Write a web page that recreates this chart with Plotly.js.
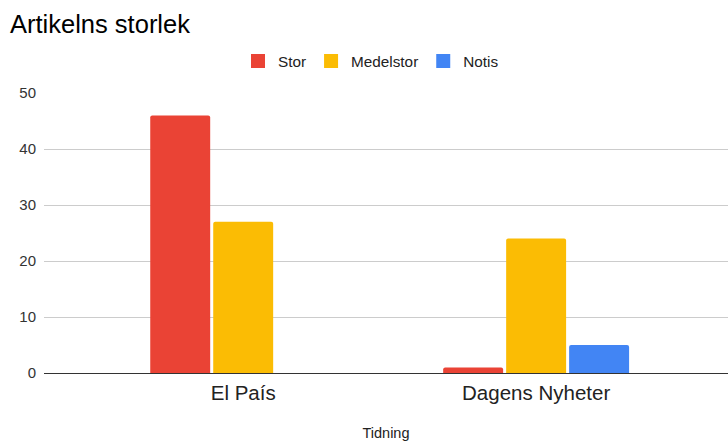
<!DOCTYPE html>
<html>
<head>
<meta charset="utf-8">
<script src="https://cdn.plot.ly/plotly-3.0.1.min.js"></script>
<style>html,body{margin:0;padding:0;background:#fff;}#chart{width:728px;height:441px;}</style>
</head>
<body>
<div id="chart"></div>
<script>
const categories = ["El País", "Dagens Nyheter"];
const seriesNames = ["Stor", "Medelstor", "Notis"];
const stor = [46, 1];
const medelstor = [27, 24];
const notis = [0, 5];
const colors = ["#EA4335", "#FBBC04", "#4285F4"];
const yTicks = [0, 10, 20, 30, 40, 50];

const values = [stor, medelstor, notis];
const traces = values.map((v, i) => ({
  type: "bar",
  name: seriesNames[i],
  x: categories,
  y: v,
  showlegend: false,
  marker: {color: colors[i], cornerradius: 2, line: {width: 0}},
  hoverinfo: "none"
}));
// legend entries (square swatches)
seriesNames.forEach((n, i) => traces.push({
  type: "scatter", mode: "markers", name: n,
  x: [null], y: [null],
  marker: {symbol: "square", size: 14, color: colors[i]},
  showlegend: true, hoverinfo: "none"
}));

const layout = {
  width: 728, height: 441,
  margin: {l: 44, r: 0, t: 93, b: 68},
  paper_bgcolor: "#fff", plot_bgcolor: "#fff",
  font: {family: "Liberation Sans, Arial, sans-serif", color: "#222"},
  title: {text: "Artikelns storlek", x: 10/728, xref: "container", xanchor: "left",
          y: 1 - 24/441, yref: "container", yanchor: "middle",
          font: {size: 25.5, color: "#000"}},
  barmode: "group",
  bargap: 0.355,
  bargroupgap: 0.048,
  showlegend: true,
  legend: {orientation: "h", xref: "container", x: 371/728, xanchor: "center",
           yref: "container", y: 1 - 61/441, yanchor: "middle",
           font: {size: 15.3, color: "#222"}, itemclick: false},
  xaxis: {type: "category", range: [-0.68, 1.655], showgrid: false, zeroline: false,
          showline: false, ticks: "", ticklabelstandoff: 5,
          tickfont: {size: 20.5, color: "#222"},
          title: {text: "Tidning", font: {size: 14.5, color: "#222"}, standoff: 29}},
  yaxis: {range: [0, 50], tickvals: yTicks, showgrid: true, gridcolor: "#cccccc",
          gridwidth: 1, zeroline: true, zerolinecolor: "#333", zerolinewidth: 1,
          showline: false, ticks: "", ticklabelstandoff: 7,
          tickfont: {size: 15, color: "#333"}}
};

Plotly.newPlot("chart", traces, layout, {staticPlot: true, displayModeBar: false});
</script>
</body>
</html>
